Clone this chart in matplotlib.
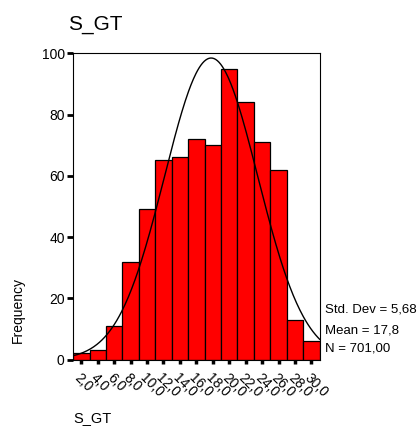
import numpy as np
import matplotlib.pyplot as plt

plt.rcParams['font.family'] = ['Liberation Sans', 'DejaVu Sans']

# bin centres and counts
centres = [2, 4, 6, 8, 10, 12, 14, 16, 18, 20, 22, 24, 26, 28, 30]
counts = [2, 3, 11, 32, 49, 65, 66, 72, 70, 95, 84, 71, 62, 13, 6]
tick_labels = ['2,0', '4,0', '6,0', '8,0', '10,0', '12,0', '14,0', '16,0',
               '18,0', '20,0', '22,0', '24,0', '26,0', '28,0', '30,0']
std_dev, mean, n = 5.68, 17.8, 701
bin_w = 2

fig = plt.figure(figsize=(4.2, 4.28), dpi=100)
ax = fig.add_axes([0.174, 0.16, 0.587, 0.7154])

ax.bar(centres, counts, width=bin_w, color='#ff0000', edgecolor='black', linewidth=0.9)

# fitted normal curve
x = np.linspace(1, 31, 300)
y = n * bin_w / (std_dev * np.sqrt(2 * np.pi)) * np.exp(-0.5 * ((x - mean) / std_dev) ** 2)
ax.plot(x, y, color='black', linewidth=1)

ax.set_xlim(1, 31)
ax.set_ylim(0, 100)
ax.set_yticks([0, 20, 40, 60, 80, 100])
ax.set_xticks(centres)
ax.set_xticklabels(tick_labels, rotation=-45, ha='left', va='top', rotation_mode='anchor')
ax.tick_params(axis='y', direction='out', length=4, width=2, labelsize=10, pad=2)
ax.tick_params(axis='x', direction='out', length=3, width=2.5, labelsize=10, pad=5)
for s in ax.spines.values():
    s.set_linewidth(0.8)

fig.text(0.162, 0.942, 'S_GT', fontsize=15, ha='left', va='center')
fig.text(0.043, 0.276, 'Frequency', fontsize=10, rotation=90, ha='center', va='center')
fig.text(0.174, 0.008, 'S_GT', fontsize=10.5, ha='left', va='bottom')

fig.text(0.773, 0.278, 'Std. Dev = 5,68', fontsize=9.5, ha='left', va='center')
fig.text(0.773, 0.227, 'Mean = 17,8', fontsize=9.5, ha='left', va='center')
fig.text(0.773, 0.185, 'N = 701,00', fontsize=9.5, ha='left', va='center')

fig.savefig('out.png', dpi=100)
